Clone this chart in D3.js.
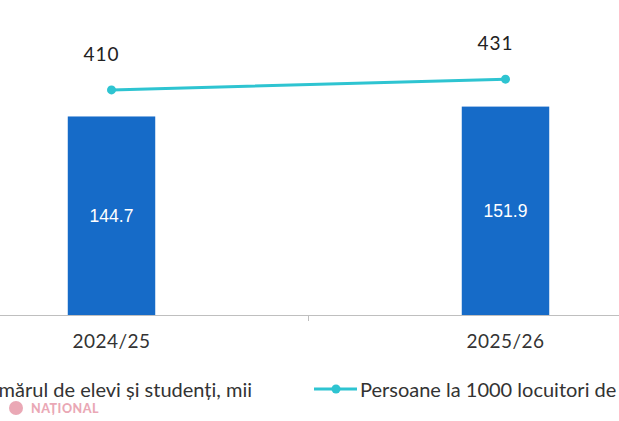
<!DOCTYPE html>
<html>
<head>
<meta charset="utf-8">
<script src="https://cdn.jsdelivr.net/npm/d3@7"></script>
<style>
  html, body { margin: 0; padding: 0; background: #fff; overflow: hidden; }
  svg { display: block; }
  text { font-family: Lato, "Open Sans", sans-serif; }
</style>
</head>
<body>
<svg id="chart" width="619" height="421"></svg>
<script>
const categories = ["2024/25", "2025/26"];
const students = [144.7, 151.9];
const perThousand = [410, 431];
const barLabels = ["144.7", "151.9"];
const lineLabels = ["410", "431"];
const legendNames = ["Numărul de elevi și studenți, mii", "Persoane la 1000 locuitori de"];

const W = 619, H = 421;
const svg = d3.select("#chart");
const baseY = 315;

const x = d3.scaleBand().domain(categories).range([-85.5, 702.5]).padding(0);
const y = d3.scaleLinear().domain([0, 200]).range([baseY, 40.6]);
const y2 = d3.scaleLinear().domain([0, 500]).range([299, 44]);

const barColor = "#166BC8";
const lineColor = "#2EC4D1";
const barW = x.bandwidth() * 0.222;
const cx = c => x(c) + x.bandwidth() / 2;

// bars
svg.append("g").selectAll("rect").data(categories).join("rect")
  .attr("x", c => cx(c) - barW / 2)
  .attr("y", (c, i) => y(students[i]))
  .attr("width", barW)
  .attr("height", (c, i) => baseY - y(students[i]))
  .attr("fill", barColor);

// bar labels
svg.append("g").selectAll("text").data(categories).join("text")
  .attr("x", c => cx(c))
  .attr("y", (c, i) => (y(students[i]) + baseY) / 2 + 6)
  .attr("text-anchor", "middle")
  .attr("fill", "#ffffff")
  .attr("font-size", 17.5)
  .style("font-family", "'Liberation Sans', Arial, sans-serif")
  .text((c, i) => barLabels[i]);

// x axis
const axis = d3.axisBottom(x).tickSize(0).tickPadding(20);
const gx = svg.append("g").attr("transform", `translate(0,${baseY})`).call(axis);
gx.select(".domain").remove();
gx.selectAll("text")
  .attr("font-size", 19)
  .attr("fill", "#333")
  .style("font-family", "Lato, sans-serif")
  .style("letter-spacing", "0.5px");
svg.append("line").attr("x1", 0).attr("x2", W).attr("y1", baseY + 0.5).attr("y2", baseY + 0.5)
  .attr("stroke", "#BFBFBF").attr("stroke-width", 1);
// category boundary ticks
const bounds = [x(categories[0]), x(categories[1]), x(categories[1]) + x.bandwidth()];
svg.append("g").selectAll("line").data(bounds).join("line")
  .attr("x1", d => d).attr("x2", d => d)
  .attr("y1", baseY).attr("y2", baseY + 6)
  .attr("stroke", "#BFBFBF").attr("stroke-width", 1);

// line series
const line = d3.line().x((d, i) => cx(categories[i])).y(d => y2(d));
svg.append("path").datum(perThousand)
  .attr("d", line).attr("fill", "none")
  .attr("stroke", lineColor).attr("stroke-width", 3).attr("stroke-linecap", "round");
svg.append("g").selectAll("circle").data(perThousand).join("circle")
  .attr("cx", (d, i) => cx(categories[i])).attr("cy", d => y2(d))
  .attr("r", 4.5).attr("fill", lineColor);
svg.append("g").selectAll("text").data(perThousand).join("text")
  .attr("x", (d, i) => cx(categories[i]) - 10)
  .attr("y", d => y2(d) - 29)
  .attr("text-anchor", "middle")
  .attr("font-size", 19)
  .attr("fill", "#222")
  .style("letter-spacing", "1px")
  .text((d, i) => lineLabels[i]);

// legend
const legY = 389;
const leg = svg.append("g");
leg.append("text").attr("x", 252).attr("y", legY + 8).attr("text-anchor", "end")
  .attr("font-size", 20).attr("fill", "#333").text(legendNames[0]);
leg.append("line").attr("x1", 314).attr("x2", 357).attr("y1", legY).attr("y2", legY)
  .attr("stroke", lineColor).attr("stroke-width", 3);
leg.append("circle").attr("cx", 336).attr("cy", legY).attr("r", 4.5).attr("fill", lineColor);
leg.append("text").attr("x", 360).attr("y", legY + 8)
  .attr("font-size", 20).attr("fill", "#333").text(legendNames[1]);

// watermark
const wm = svg.append("g").attr("opacity", 0.55);
wm.append("circle").attr("cx", 16).attr("cy", 408).attr("r", 7).attr("fill", "#D9627A");
wm.append("text").attr("x", 31).attr("y", 412.5).attr("font-size", 12.5).attr("font-weight", 900)
  .attr("fill", "#D9627A").style("letter-spacing", "0.5px").text("NAȚIONAL");
</script>
</body>
</html>
